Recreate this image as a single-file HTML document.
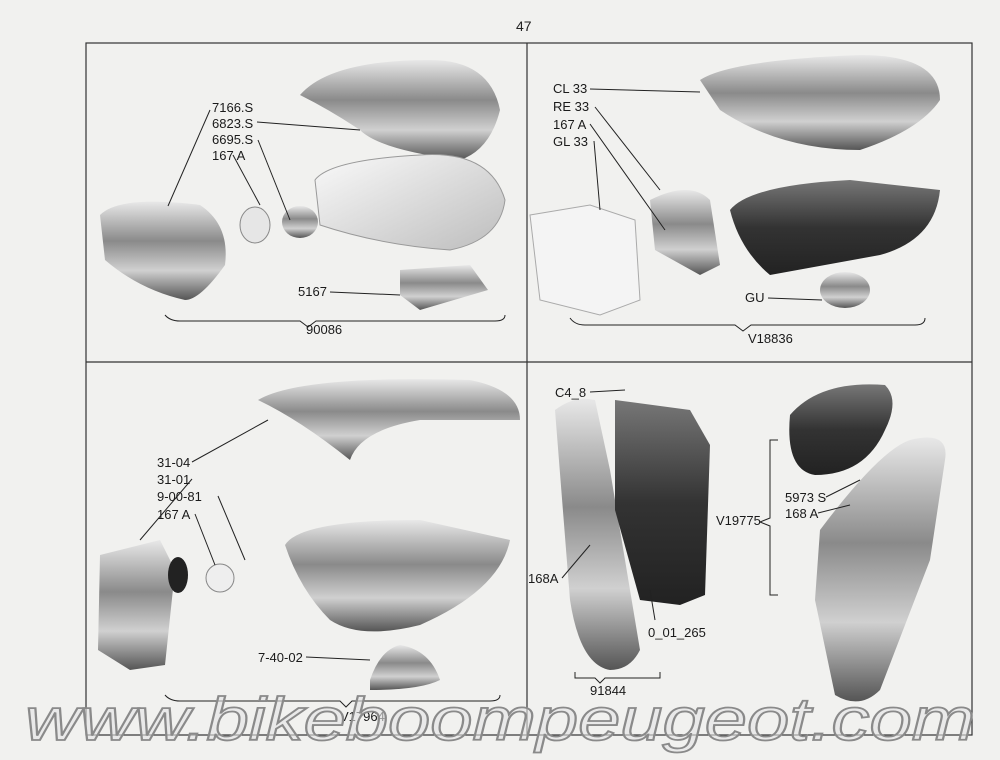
<!DOCTYPE html>
<html><head><meta charset="utf-8"><style>
body{margin:0;background:#f1f1ef;}
svg{display:block;font-family:"Liberation Sans",sans-serif;}
</style></head><body>
<svg width="1000" height="760" viewBox="0 0 1000 760" xmlns="http://www.w3.org/2000/svg">
<defs>
<linearGradient id="ch" x1="0" y1="0" x2="0" y2="1"><stop offset="0" stop-color="#e8e8e8"/><stop offset=".4" stop-color="#8a8a8a"/><stop offset=".7" stop-color="#d0d0d0"/><stop offset="1" stop-color="#555"/></linearGradient>
<linearGradient id="dk" x1="0" y1="0" x2="0" y2="1"><stop offset="0" stop-color="#777"/><stop offset=".5" stop-color="#333"/><stop offset="1" stop-color="#222"/></linearGradient>
<linearGradient id="lt" x1="0" y1="0" x2="1" y2="1"><stop offset="0" stop-color="#fafafa"/><stop offset="1" stop-color="#bdbdbd"/></linearGradient>
</defs>
<rect width="1000" height="760" fill="#f1f1ef"/>
<text x="516" y="31" font-size="14" fill="#222">47</text>
<rect x="86" y="43" width="886" height="692" fill="none" stroke="#333" stroke-width="1.2"/>
<line x1="527" y1="43" x2="527" y2="735" stroke="#333" stroke-width="1.2"/>
<line x1="86" y1="362" x2="972" y2="362" stroke="#333" stroke-width="1.2"/>

<path d="M300 95 Q330 60 430 60 Q490 60 500 110 Q490 150 460 160 Q380 150 360 130 Q330 110 300 95Z" fill="url(#ch)"/>
<path d="M315 180 Q330 160 420 155 Q490 150 505 200 Q500 240 450 250 Q380 245 320 225Z" fill="url(#lt)" stroke="#999"/>
<path d="M100 215 Q120 195 200 205 Q230 225 225 265 Q200 300 185 300 Q140 290 105 260Z" fill="url(#ch)"/>
<ellipse cx="255" cy="225" rx="15" ry="18" fill="#e6e6e6" stroke="#888"/>
<ellipse cx="300" cy="222" rx="18" ry="16" fill="url(#ch)"/>
<path d="M400 270 L470 265 L488 290 L420 310 L400 295Z" fill="url(#ch)"/>
<path d="M700 80 Q730 60 860 55 Q940 55 940 100 Q920 130 860 150 Q780 150 720 110Z" fill="url(#ch)"/>
<path d="M730 210 Q750 185 850 180 L940 190 Q935 240 880 255 L770 275 Q740 250 730 210Z" fill="url(#dk)"/>
<path d="M530 215 L590 205 L635 220 L640 300 L600 315 L540 300Z" fill="#f4f4f4" stroke="#aaa"/>
<path d="M650 200 Q690 180 710 200 L720 265 L700 275 L655 250Z" fill="url(#ch)"/>
<ellipse cx="845" cy="290" rx="25" ry="18" fill="url(#ch)"/>
<path d="M258 400 Q300 375 470 380 Q520 390 520 420 Q480 420 420 420 Q360 430 350 460 Q300 420 258 400Z" fill="url(#ch)"/>
<path d="M285 545 Q300 520 420 520 L510 540 Q500 590 420 625 Q360 640 330 620 Q300 590 285 545Z" fill="url(#ch)"/>
<path d="M100 555 L160 540 L175 570 L165 665 L130 670 L98 650Z" fill="url(#ch)"/>
<ellipse cx="178" cy="575" rx="10" ry="18" fill="#222"/>
<circle cx="220" cy="578" r="14" fill="#eee" stroke="#888"/>
<path d="M370 680 Q380 650 400 645 Q430 650 440 680 Q420 690 370 690Z" fill="url(#ch)"/>
<path d="M555 410 Q575 395 595 400 L610 470 L640 650 Q630 670 610 670 Q580 665 570 600 Z" fill="url(#ch)"/>
<path d="M615 400 L690 410 L710 445 L705 595 L680 605 L640 600 L615 510Z" fill="url(#dk)"/>
<path d="M790 415 Q820 380 885 385 Q900 400 885 430 Q865 475 815 475 Q785 470 790 415Z" fill="url(#dk)"/>
<path d="M820 530 Q880 450 910 440 Q950 430 945 460 L930 560 L880 690 Q860 710 835 695 L815 600Z" fill="url(#ch)"/>

<g stroke="#222" stroke-width="1" fill="none">
<path d="M168 206 L210 110"/><path d="M257 122 L360 130"/><path d="M258 140 L290 220"/><path d="M233 155 L260 205"/>
<path d="M330 292 L400 295"/>
<path d="M165 315 Q170 321 180 321 L300 321 L308 327 L316 321 L495 321 Q505 321 505 315"/>
<path d="M590 89 L700 92"/><path d="M595 107 L660 190"/><path d="M590 124 L665 230"/><path d="M594 141 L600 210"/>
<path d="M768 298 L822 300"/>
<path d="M570 318 Q575 325 585 325 L735 325 L743 331 L751 325 L915 325 Q925 325 925 318"/>
<path d="M192 462 L268 420"/><path d="M192 479 L140 540"/><path d="M218 496 L245 560"/><path d="M195 514 L215 565"/>
<path d="M306 657 L370 660"/>
<path d="M165 695 Q170 701 180 701 L340 701 L346 707 L352 701 L490 701 Q500 701 500 695"/>
<path d="M590 392 L625 390"/><path d="M562 578 L590 545"/><path d="M655 620 L650 590"/>
<path d="M575 672 L575 678 L595 678 L600 683 L605 678 L660 678 L660 672"/>
<path d="M778 440 L770 440 L770 518 L760 522 L770 526 L770 595 L778 595"/>
<path d="M826 497 L860 480"/><path d="M818 513 L850 505"/>
</g>
<g font-size="13" fill="#1a1a1a">
<text x="212" y="112">7166.S</text><text x="212" y="128">6823.S</text><text x="212" y="144">6695.S</text><text x="212" y="160">167 A</text>
<text x="298" y="296">5167</text><text x="306" y="334">90086</text>
<text x="553" y="93">CL 33</text><text x="553" y="111">RE 33</text><text x="553" y="129">167 A</text><text x="553" y="146">GL 33</text>
<text x="745" y="302">GU</text><text x="748" y="343">V18836</text>
<text x="157" y="467">31-04</text><text x="157" y="484">31-01</text><text x="157" y="501">9-00-81</text><text x="157" y="519">167 A</text>
<text x="258" y="662">7-40-02</text><text x="340" y="721">V17964</text>
<text x="555" y="397">C4_8</text><text x="528" y="583">168A</text><text x="648" y="637">0_01_265</text><text x="590" y="695">91844</text>
<text x="716" y="525">V19775</text><text x="785" y="502">5973 S</text><text x="785" y="518">168 A</text>
</g>
<text x="25" y="740" font-size="60" font-style="italic" fill="#e4e4e4" fill-opacity="0.6" stroke="#8a8a8a" stroke-width="1.8" textLength="950" lengthAdjust="spacingAndGlyphs">www.bikeboompeugeot.com</text>
</svg>
</body></html>
